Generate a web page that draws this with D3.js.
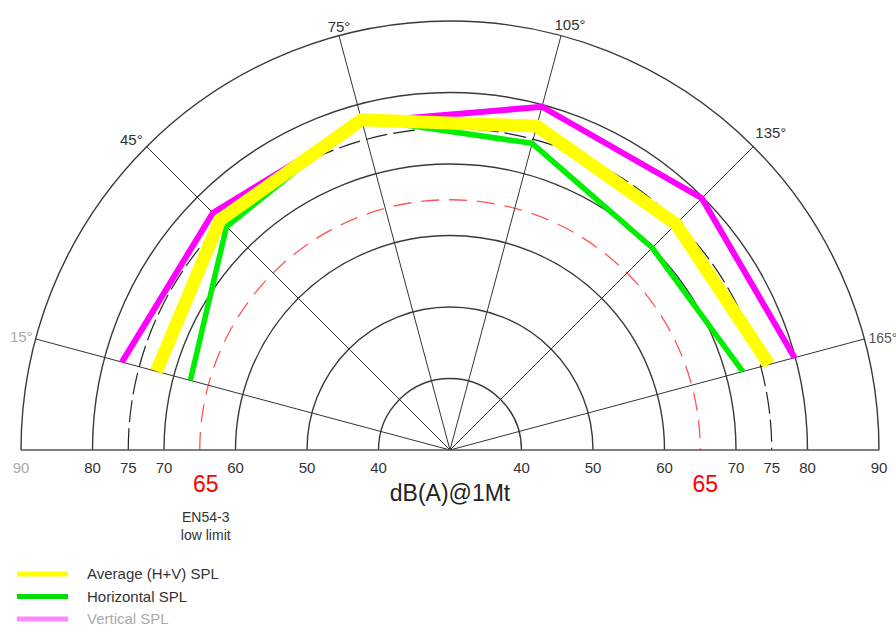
<!DOCTYPE html>
<html>
<head>
<meta charset="utf-8">
<script src="https://cdn.jsdelivr.net/npm/d3@7"></script>
<style>
  body { margin: 0; background: #fff; }
  svg { display: block; font-family: "Liberation Sans", Arial, sans-serif; }
</style>
</head>
<body>
<div id="chart"></div>
<script>
// angles in degrees, measured from the left end of the baseline
const angles = [15, 45, 75, 105, 135, 165];
const horizontal = [67.6, 74.2, 78.0, 74.4, 70.0, 72.4];
const vertical = [77.5, 76.9, 77.5, 79.7, 79.8, 79.9];
const average = [72.5, 75.5, 77.8, 76.9, 74.7, 76.2];

const gridLevels = [40, 50, 60, 70, 80, 90];
const tickLabels = [90, 80, 75, 70, 60, 50, 40];
const limitLevel = 65;
const refLevel = 75;

const width = 896;
const height = 628;
const cx = 450;
const cy = 450;

const svg = d3.select("#chart").append("svg")
  .attr("width", width)
  .attr("height", height);

const r = d3.scaleLinear().domain([30, 90]).range([0, 429]);
const rad = (a) => (a - 90) * Math.PI / 180;

const g = svg.append("g").attr("transform", `translate(${cx},${cy})`);

const semi = (v) => {
  const p = d3.path();
  p.arc(0, 0, r(v), Math.PI, 2 * Math.PI);
  return p.toString();
};

// grid circles
g.selectAll(".ring").data(gridLevels).enter().append("path")
  .attr("class", "ring")
  .attr("d", semi)
  .attr("fill", "none")
  .attr("stroke", "#3a3a3a")
  .attr("stroke-width", 1.4);

g.append("path")
  .attr("d", semi(refLevel))
  .attr("fill", "none")
  .attr("stroke", "#222")
  .attr("stroke-width", 1.2)
  .attr("stroke-dasharray", "22,6");

g.append("path")
  .attr("d", semi(limitLevel))
  .attr("fill", "none")
  .attr("stroke", "#f55")
  .attr("stroke-width", 1.3)
  .attr("stroke-dasharray", "18,10");

// spokes
g.selectAll(".spoke").data(angles).enter().append("line")
  .attr("class", "spoke")
  .attr("x1", 0).attr("y1", 0)
  .attr("x2", (a) => r(90) * Math.sin(rad(a)))
  .attr("y2", (a) => -r(90) * Math.cos(rad(a)))
  .attr("stroke", "#333")
  .attr("stroke-width", 1);

// baseline
g.append("line")
  .attr("x1", -r(90)).attr("x2", r(90))
  .attr("y1", 0).attr("y2", 0)
  .attr("stroke", "#555")
  .attr("stroke-width", 1.5);

// series
const line = d3.lineRadial()
  .angle((d) => rad(d[0]))
  .radius((d) => r(d[1]));

const series = [
  { vals: vertical, color: "#ff00ff", w: 6 },
  { vals: horizontal, color: "#00ee00", w: 5.5 },
  { vals: average, color: "#ffff00", w: 13 },
];

series.forEach((s) => {
  g.append("path")
    .datum(angles.map((a, i) => [a, s.vals[i]]))
    .attr("d", line)
    .attr("fill", "none")
    .attr("stroke", s.color)
    .attr("stroke-width", s.w)
    .attr("stroke-linejoin", "miter");
});

// angle labels
const angleLab = {
  15: { dx: -3, dy: 3, anchor: "end", fill: "#aaa" },
  45: { dx: -4, dy: -2, anchor: "end", fill: "#333" },
  75: { dx: 0, dy: -4, anchor: "middle", fill: "#333" },
  105: { dx: 9, dy: -6, anchor: "middle", fill: "#333" },
  135: { dx: 2, dy: -9, anchor: "start", fill: "#333" },
  165: { dx: 4, dy: 4, anchor: "start", fill: "#555" },
};
g.selectAll(".alab").data(angles).enter().append("text")
  .attr("class", "alab")
  .attr("x", (a) => r(90) * Math.sin(rad(a)) + angleLab[a].dx)
  .attr("y", (a) => -r(90) * Math.cos(rad(a)) + angleLab[a].dy)
  .attr("text-anchor", (a) => angleLab[a].anchor)
  .attr("font-size", (a) => (a === 165 ? 14 : 15))
  .attr("fill", (a) => angleLab[a].fill)
  .text((a) => a + "°");

// radial tick labels on both sides
[-1, 1].forEach((side) => {
  g.selectAll(".tl" + side).data(tickLabels).enter().append("text")
    .attr("x", (v) => side * r(v))
    .attr("y", 23)
    .attr("text-anchor", "middle")
    .attr("font-size", 15)
    .attr("fill", (v) => (side < 0 && v === 90 ? "#aaa" : "#333"))
    .text((v) => v);

  g.append("text")
    .attr("x", side * r(limitLevel) + (side < 0 ? 6 : 5))
    .attr("y", 42)
    .attr("text-anchor", "middle")
    .attr("font-size", 23)
    .attr("fill", "#f00")
    .text(limitLevel);
});

g.append("text")
  .attr("x", 0).attr("y", 51)
  .attr("text-anchor", "middle")
  .attr("font-size", 23)
  .attr("fill", "#222")
  .text("dB(A)@1Mt");

g.append("text")
  .attr("x", -r(limitLevel) + 6).attr("y", 72)
  .attr("text-anchor", "middle")
  .attr("font-size", 14)
  .attr("fill", "#333")
  .text("EN54-3");
g.append("text")
  .attr("x", -r(limitLevel) + 6).attr("y", 90)
  .attr("text-anchor", "middle")
  .attr("font-size", 14)
  .attr("fill", "#333")
  .text("low limit");

// legend
const legendNames = ["Average (H+V) SPL", "Horizontal SPL", "Vertical SPL"];
const legendColors = ["#ffff00", "#00e000", "#ff88ff"];
const legendText = ["#333", "#333", "#aaa"];
const leg = svg.append("g").attr("transform", "translate(17,574)");
legendNames.forEach((n, i) => {
  const y = i * 22.5;
  leg.append("line")
    .attr("x1", 0).attr("x2", 51)
    .attr("y1", y).attr("y2", y)
    .attr("stroke", legendColors[i])
    .attr("stroke-width", 5);
  leg.append("text")
    .attr("x", 70).attr("y", y + 5)
    .attr("font-size", 15)
    .attr("fill", legendText[i])
    .text(n);
});
</script>
</body>
</html>
